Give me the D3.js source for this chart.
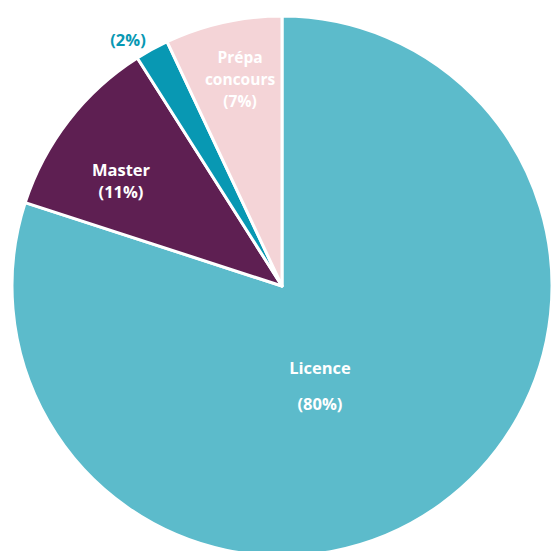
<!DOCTYPE html>
<html>
<head>
<meta charset="utf-8">
<script src="https://cdn.jsdelivr.net/npm/d3@7"></script>
<style>
  html, body { margin: 0; padding: 0; background: #fff; }
  svg { display: block; }
  text { font-family: "Open Sans", "Lato", sans-serif; font-weight: 700; font-size: 16.5px; }
</style>
</head>
<body>
<svg id="chart"></svg>
<script>
const categories = ["Licence", "Master", "", "Prépa\nconcours"];
const values = [80, 11, 2, 7];
const colors = ["#5cbbcb", "#5e1f52", "#0898b3", "#f4d4d7"];

const width = 551, height = 551;
const cx = 282, cy = 286, radius = 270;

// label placement relative to pie centre (layout only)
const labelPos = [[38, 100], [-161, -105], [-154, -246], [-42, -206]];
const labelSize = [16.5, 16.5, 16.5, 15.5];
const lineGap = [36, 22, 22, 22];

const svg = d3.select("#chart").attr("width", width).attr("height", height);
const g = svg.append("g").attr("transform", `translate(${cx},${cy})`);

const pie = d3.pie().sort(null).value(d => d.value);
const arc = d3.arc().innerRadius(0).outerRadius(radius);

const data = categories.map((c, i) => ({ name: c, value: values[i], color: colors[i] }));
const arcs = pie(data);

g.selectAll("path")
  .data(arcs)
  .join("path")
  .attr("d", arc)
  .attr("fill", d => d.data.color)
  .attr("stroke", "#fff")
  .attr("stroke-width", 3)
  .attr("stroke-linejoin", "round");

arcs.forEach((d, i) => {
  const [x, y] = labelPos[i];
  const lines = d.data.name ? d.data.name.split("\n") : [];
  lines.push(`(${d.data.value}%)`);
  const outside = !d.data.name;
  const t = g.append("text")
    .attr("text-anchor", "middle")
    .style("font-size", labelSize[i] + "px")
    .attr("fill", outside ? d.data.color : "#fff");
  const n = lines.length;
  lines.forEach((l, j) => {
    t.append("tspan")
      .attr("x", x)
      .attr("y", y + (j - (n - 1) / 2) * lineGap[i])
      .attr("dy", "0.35em")
      .text(l);
  });
});
</script>
</body>
</html>
